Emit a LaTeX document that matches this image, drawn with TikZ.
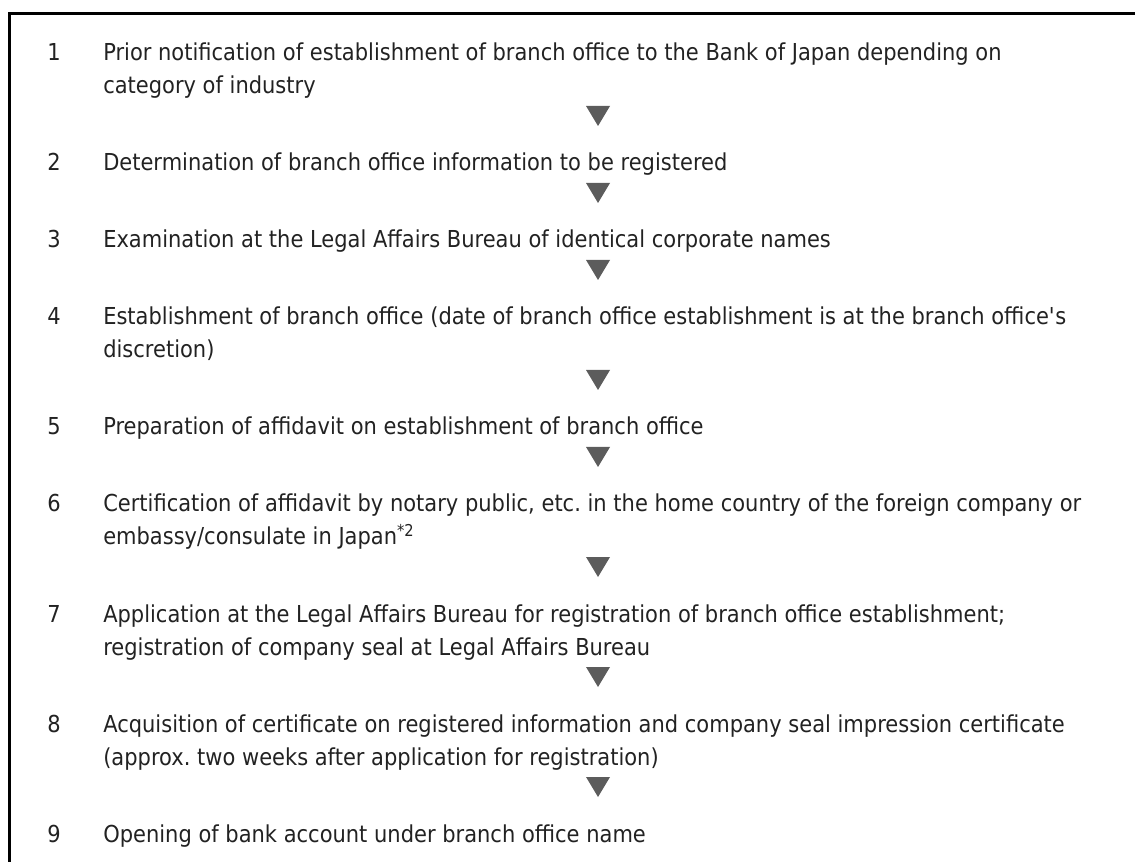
\documentclass[tikz,border=0pt]{standalone}
\usepackage{fontspec}
\setmainfont{DejaVu Sans}[FakeStretch=0.9]
\definecolor{textdark}{RGB}{34,34,34}
\definecolor{arrowgray}{RGB}{92,92,92}
\tikzset{
  numtxt/.style={anchor=base west,inner sep=0pt,text=textdark},
  steptxt/.style={anchor=base west,inner sep=0pt,align=left,text=textdark},
  downtri/.style={fill=arrowgray}
}

\begin{document}
\begin{tikzpicture}[x=0.75pt,y=-0.75pt,font=\fontsize{17.5pt}{24.75pt}\selectfont\frenchspacing]
  \useasboundingbox (0,0) rectangle (1135,862);
  % frame, left and top only
  \draw[line width=2.25pt] (9,862) -- (9,13.5) -- (1135,13.5);
  % numbers
  \node[numtxt] (n1) at (47,61) {1};
  \node[numtxt] (n2) at (47,171) {2};
  \node[numtxt] (n3) at (47,248) {3};
  \node[numtxt] (n4) at (47,325) {4};
  \node[numtxt] (n5) at (47,435) {5};
  \node[numtxt] (n6) at (47,512) {6};
  \node[numtxt] (n7) at (47,622) {7};
  \node[numtxt] (n8) at (47,732) {8};
  \node[numtxt] (n9) at (47,842) {9};
  % steps (two-line steps sit on the base of their last line)
  \node[steptxt] (s1) at (103,94) {Prior notification of establishment of branch office to the Bank of Japan depending on\\category of industry};
  \node[steptxt] (s2) at (103,171) {Determination of branch office information to be registered};
  \node[steptxt] (s3) at (103,248) {Examination at the Legal Affairs Bureau of identical corporate names};
  \node[steptxt] (s4) at (103,358) {Establishment of branch office (date of branch office establishment is at the branch office\textquotesingle s\\discretion)};
  \node[steptxt] (s5) at (103,435) {Preparation of affidavit on establishment of branch office};
  \node[steptxt] (s6) at (103,545) {Certification of affidavit by notary public, etc. in the home country of the foreign company or\\embassy/consulate in Japan\textsuperscript{*2}};
  \node[steptxt] (s7) at (103,655) {Application at the Legal Affairs Bureau for registration of branch office establishment;\\registration of company seal at Legal Affairs Bureau};
  \node[steptxt] (s8) at (103,765) {Acquisition of certificate on registered information and company seal impression certificate\\(approx. two weeks after application for registration)};
  \node[steptxt] (s9) at (103,842) {Opening of bank account under branch office name};
  % triangles between steps
  \fill[downtri] (586,106) -- (610,106) -- (598,126) -- cycle;
  \fill[downtri] (586,183) -- (610,183) -- (598,203) -- cycle;
  \fill[downtri] (586,260) -- (610,260) -- (598,280) -- cycle;
  \fill[downtri] (586,370) -- (610,370) -- (598,390) -- cycle;
  \fill[downtri] (586,447) -- (610,447) -- (598,467) -- cycle;
  \fill[downtri] (586,557) -- (610,557) -- (598,577) -- cycle;
  \fill[downtri] (586,667) -- (610,667) -- (598,687) -- cycle;
  \fill[downtri] (586,777) -- (610,777) -- (598,797) -- cycle;
\end{tikzpicture}
\end{document}
